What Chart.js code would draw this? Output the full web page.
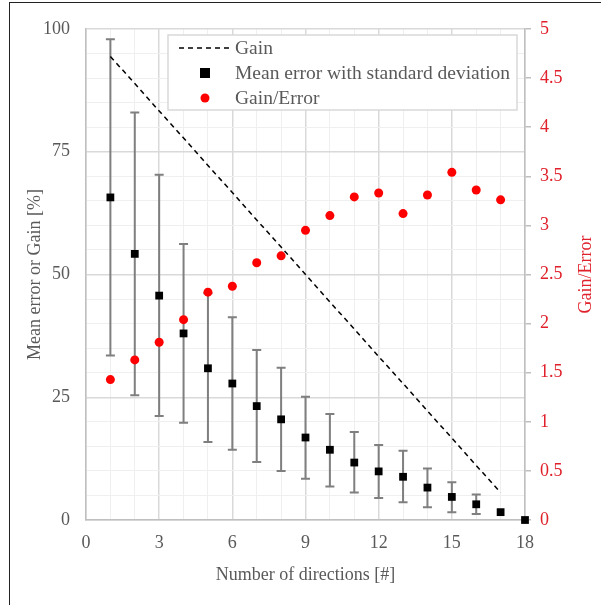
<!DOCTYPE html>
<html>
<head>
<meta charset="utf-8">
<script src="https://cdn.jsdelivr.net/npm/chart.js@4.4.0/dist/chart.umd.min.js"></script>
<style>
  html, body { margin: 0; padding: 0; background: #fff; }
  #wrap { position: relative; width: 601px; height: 605px; }
  #frame { position: absolute; left: 9px; top: 2px; width: 620px; height: 640px;
           border-left: 1.5px solid #222; border-top: 1.5px solid #222; }
  canvas { position: absolute; left: 0; top: 0; }
</style>
</head>
<body>
<div id="wrap">
  <div id="frame"></div>
  <canvas id="c" width="601" height="605"></canvas>
</div>
<script>
// ---- data ----
const directions = [1, 2, 3, 4, 5, 6, 7, 8, 9, 10, 11, 12, 13, 14, 15, 16, 17, 18];
const meanError  = [65.7, 54.2, 45.7, 38.0, 30.9, 27.8, 23.2, 20.5, 16.8, 14.3, 11.7, 9.9, 8.8, 6.6, 4.7, 3.2, 1.6, 0];
const errUpper   = [97.9, 83.0, 70.3, 56.2, 46.2, 41.3, 34.6, 31.0, 25.1, 21.6, 17.9, 15.3, 14.1, 10.5, 7.7, 5.2, null, null];
const errLower   = [33.5, 25.4, 21.2, 19.8, 15.9, 14.3, 11.8, 10.0, 8.4, 6.8, 5.6, 4.5, 3.6, 2.6, 1.6, 1.2, null, null];
const gainDirections = [1, 2, 3, 4, 5, 6, 7, 8, 9, 10, 11, 12, 13, 14, 15, 16, 17];
const gain       = [94.4, 88.9, 83.3, 77.8, 72.2, 66.7, 61.1, 55.6, 50.0, 44.4, 38.9, 33.3, 27.8, 22.2, 16.7, 11.1, 5.6];
const gainError  = [1.43, 1.63, 1.81, 2.04, 2.32, 2.38, 2.62, 2.69, 2.95, 3.10, 3.29, 3.33, 3.12, 3.31, 3.54, 3.36, 3.26];
const xTickLabels = [0, 3, 6, 9, 12, 15, 18];
const yTickLabels = [0, 25, 50, 75, 100];
const y2TickLabels = [0, 0.5, 1, 1.5, 2, 2.5, 3, 3.5, 4, 4.5, 5];
const legendLabels = ['Gain', 'Mean error with standard deviation', 'Gain/Error'];

const GREY = '#595959';
const RED = '#e0202a';
const FONT = "'Liberation Serif', 'Times New Roman', serif";

const errorBars = {
  id: 'errorBars',
  beforeDatasetsDraw(chart) {
    const {ctx, scales: {x, y}} = chart;
    ctx.save();
    ctx.strokeStyle = '#7f7f7f';
    ctx.lineWidth = 2;
    directions.forEach((d, i) => {
      if (errUpper[i] == null) return;
      const px = x.getPixelForValue(d);
      const pt = y.getPixelForValue(errUpper[i]);
      const pb = y.getPixelForValue(errLower[i]);
      ctx.beginPath();
      ctx.moveTo(px, pt); ctx.lineTo(px, pb);
      ctx.moveTo(px - 4.5, pt); ctx.lineTo(px + 4.5, pt);
      ctx.moveTo(px - 4.5, pb); ctx.lineTo(px + 4.5, pb);
      ctx.stroke();
    });
    ctx.restore();
  }
};

const extras = {
  id: 'extras',
  afterDraw(chart) {
    const {ctx, chartArea} = chart;
    ctx.save();
    // right axis title (reads bottom-to-top)
    ctx.font = '18px ' + FONT;
    ctx.fillStyle = RED;
    ctx.textAlign = 'center';
    ctx.textBaseline = 'middle';
    ctx.translate(586, (chartArea.top + chartArea.bottom) / 2);
    ctx.rotate(-Math.PI / 2);
    ctx.fillText('Gain/Error', 0, 0);
    ctx.restore();

    // legend
    ctx.save();
    const bx = 168, by = 35, bw = 349, bh = 75;
    ctx.fillStyle = '#fff';
    ctx.fillRect(bx, by, bw, bh);
    ctx.strokeStyle = '#d9d9d9';
    ctx.lineWidth = 1.5;
    ctx.strokeRect(bx, by, bw, bh);
    const rows = [48, 73, 98];
    // dashed line
    ctx.strokeStyle = '#000';
    ctx.lineWidth = 1.5;
    ctx.setLineDash([5, 4]);
    ctx.beginPath(); ctx.moveTo(179, rows[0]); ctx.lineTo(231, rows[0]); ctx.stroke();
    ctx.setLineDash([]);
    // square
    ctx.fillStyle = '#000';
    ctx.fillRect(200, rows[1] - 5, 10, 10);
    // circle
    ctx.fillStyle = '#f00';
    ctx.beginPath(); ctx.arc(205, rows[2], 4.5, 0, Math.PI * 2); ctx.fill();
    ctx.fillStyle = GREY;
    ctx.font = '19.5px ' + FONT;
    ctx.textAlign = 'left';
    ctx.textBaseline = 'middle';
    legendLabels.forEach((t, i) => ctx.fillText(t, 235, rows[i] + 1));
    ctx.restore();
  }
};

new Chart(document.getElementById('c'), {
  type: 'scatter',
  data: {
    datasets: [
      {
        label: legendLabels[0], type: 'line',
        data: gainDirections.map((d, i) => ({x: d, y: gain[i]})),
        borderColor: '#000', borderWidth: 1.5, borderDash: [5, 4],
        pointRadius: 0, fill: false, yAxisID: 'y', order: 3
      },
      {
        label: legendLabels[1],
        data: directions.map((d, i) => ({x: d, y: meanError[i]})),
        pointStyle: 'rect', pointRadius: 5.5, pointBorderWidth: 0, clip: false,
        backgroundColor: '#000', borderColor: '#000', yAxisID: 'y', order: 1
      },
      {
        label: legendLabels[2],
        data: gainDirections.map((d, i) => ({x: d, y: gainError[i]})),
        pointStyle: 'circle', pointRadius: 4.5, pointBorderWidth: 0, clip: false,
        backgroundColor: '#f00', borderColor: '#f00', yAxisID: 'y2', order: 2
      }
    ]
  },
  options: {
    responsive: false,
    animation: false,
    layout: { padding: { top: 29, left: 0, right: 0, bottom: 0 } },
    plugins: { legend: { display: false }, tooltip: { enabled: false } },
    scales: {
      x: {
        type: 'linear', min: 0, max: 18,
        afterFit(s) { s.height = 85; },
        border: { color: '#bfbfbf', width: 1.5 },
        grid: {
          drawTicks: false,
          color: c => (c.tick.value % 3 === 0 ? '#d9d9d9' : '#efefef'),
          lineWidth: c => (c.tick.value % 3 === 0 ? 1.5 : 1)
        },
        ticks: {
          stepSize: 1, autoSkip: false, maxRotation: 0, padding: 12,
          color: GREY, font: { family: FONT, size: 18 },
          callback: v => (xTickLabels.includes(v) ? String(v) : '')
        },
        title: {
          display: true, text: 'Number of directions [#]', color: GREY,
          font: { family: FONT, size: 18 }, padding: { top: 0, bottom: 19 }
        }
      },
      y: {
        type: 'linear', position: 'left', min: 0, max: 100,
        afterFit(s) { s.width = 86; },
        border: { color: '#bfbfbf', width: 1.5 },
        grid: {
          drawTicks: false,
          color: c => (c.tick.value % 25 === 0 ? '#d9d9d9' : '#efefef'),
          lineWidth: c => (c.tick.value % 25 === 0 ? 1.5 : 1)
        },
        ticks: {
          stepSize: 5, autoSkip: false, padding: 16,
          color: GREY, font: { family: FONT, size: 18 },
          callback: v => (yTickLabels.includes(v) ? String(v) : '')
        },
        title: {
          display: true, text: 'Mean error or Gain [%]', color: GREY,
          font: { family: FONT, size: 18 }, padding: { top: 24, bottom: 0 }
        }
      },
      y2: {
        type: 'linear', position: 'right', min: 0, max: 5,
        afterFit(s) { s.width = 76; },
        border: { color: '#bfbfbf', width: 1.5 },
        grid: { drawOnChartArea: false, drawTicks: true, tickLength: 6, color: '#bfbfbf', lineWidth: 1.5 },
        ticks: {
          stepSize: 0.5, autoSkip: false, padding: 9,
          color: RED, font: { family: FONT, size: 18 },
          callback: v => (y2TickLabels.includes(v) ? String(v) : '')
        }
      }
    }
  },
  plugins: [errorBars, extras]
});
</script>
</body>
</html>
